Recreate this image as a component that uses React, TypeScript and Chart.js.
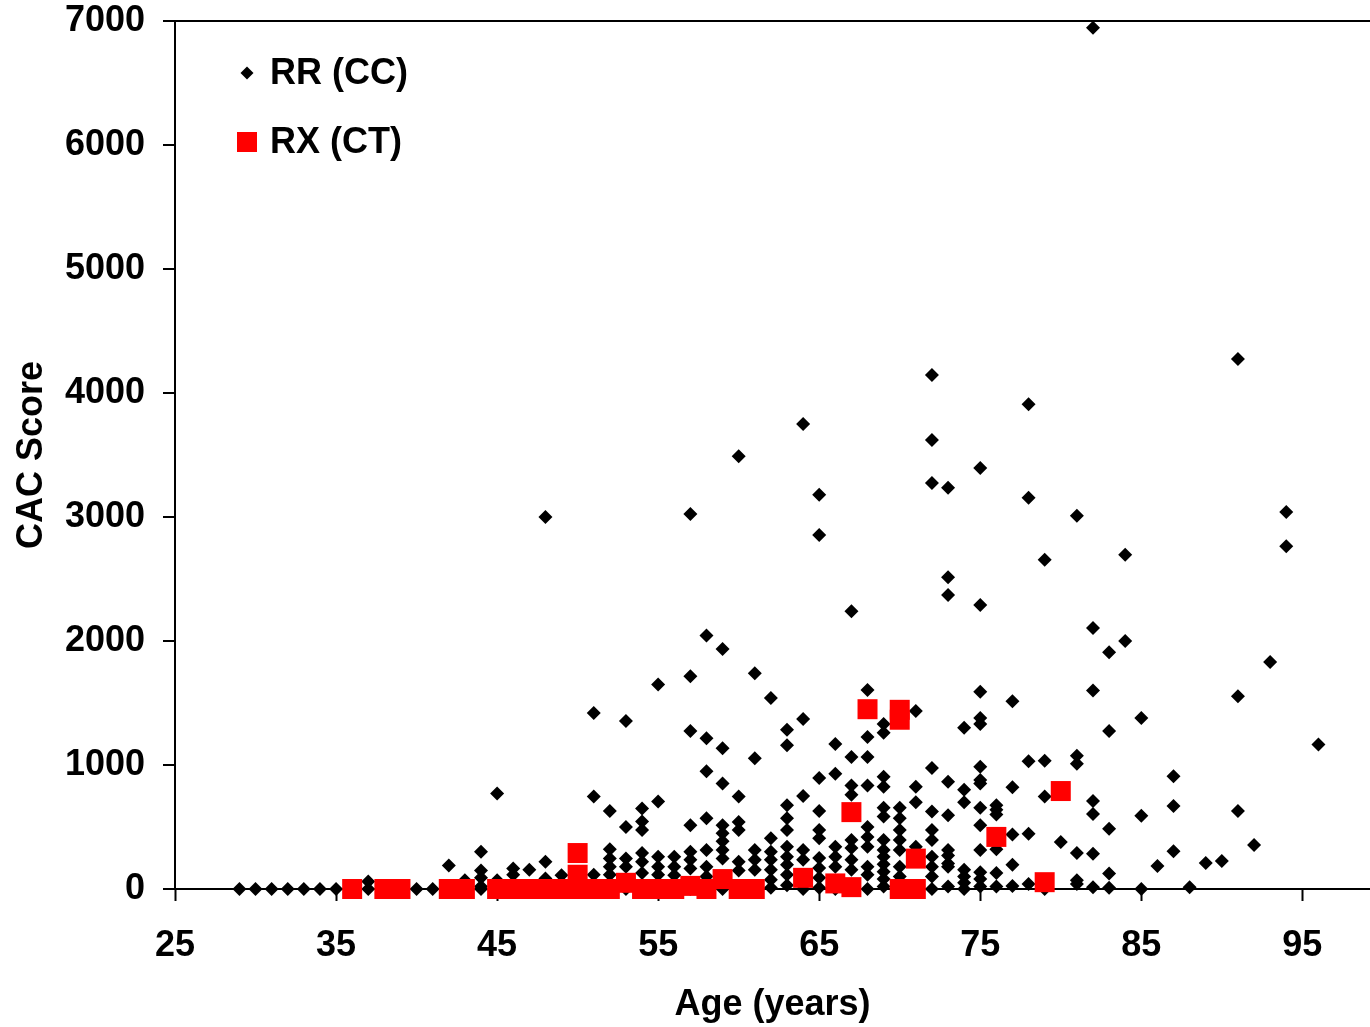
import React, { useEffect, useRef } from "react";
import { Chart, registerables } from "chart.js";

Chart.register(...registerables);

const FONT = '"Liberation Sans", Arial, Helvetica, sans-serif';

// Axis ticks
const xTickValues = [25, 35, 45, 55, 65, 75, 85, 95];
const yTickValues = [0, 1000, 2000, 3000, 4000, 5000, 6000, 7000];

// Series labels
const legendLabels = ["RR (CC)", "RX (CT)"];
const axisTitles = { x: "Age (years)", y: "CAC Score" };

// RR (CC): ages and the CAC scores observed at each age
const rrAges = [
  29, 30, 31, 32, 33, 34, 35, 36, 37, 38, 39, 40, 41, 42, 43, 44, 45, 46, 47, 48,
  49, 50, 51, 52, 53, 54, 55, 56, 57, 58, 59, 60, 61, 62, 63, 64, 65, 66, 67, 68,
  69, 70, 71, 72, 73, 74, 75, 76, 77, 78, 79, 80, 81, 82, 83, 84, 85, 86, 87, 88,
  89, 90, 91, 92, 93, 94, 96,
];
const rrScores = [
  [0], [0], [0], [0], [0], [0], [0], [0], [60, 0], [0], [0], [0], [0], [190, 0], [70, 0],
  [300, 150, 90, 20, 0],
  [770, 70, 0],
  [165, 115, 0],
  [155, 0],
  [3000, 220, 85, 0],
  [110, 0],
  [40, 0],
  [1420, 745, 115, 0],
  [630, 320, 245, 180, 115, 0],
  [1355, 500, 245, 180, 60, 0],
  [650, 545, 475, 290, 220, 130, 0],
  [1650, 705, 260, 180, 115, 0],
  [260, 180, 110, 0],
  [3025, 1715, 1275, 515, 300, 235, 165, 0],
  [2045, 1215, 950, 570, 315, 180, 100, 20],
  [1935, 1135, 850, 515, 450, 385, 315, 245, 0],
  [3490, 745, 540, 475, 220, 150, 0],
  [1740, 1055, 315, 235, 155, 0],
  [1540, 410, 300, 235, 155, 75, 10],
  [1285, 1160, 675, 570, 475, 340, 260, 195, 115, 30],
  [3750, 1370, 750, 315, 235, 0],
  [3180, 2855, 895, 630, 475, 410, 250, 170, 90, 10],
  [1170, 930, 340, 260, 180, 0],
  [2240, 1065, 835, 760, 395, 330, 235, 155, 0],
  [1605, 1225, 1065, 835, 500, 420, 340, 180, 115, 0],
  [1330, 1260, 905, 825, 655, 585, 395, 315, 260, 200, 140, 80, 20],
  [655, 570, 475, 395, 315, 180, 100, 0],
  [1435, 825, 700, 340, 0],
  [4145, 3620, 3275, 975, 625, 475, 395, 260, 180, 100, 0],
  [3235, 2515, 2370, 865, 595, 315, 270, 205, 180, 20],
  [1300, 800, 700, 155, 100, 50, 0],
  [3395, 2290, 1590, 1380, 1330, 985, 880, 850, 655, 515, 315, 135, 80, 20],
  [675, 640, 600, 320, 130, 20],
  [1515, 820, 440, 195, 25],
  [3910, 3155, 1030, 445, 40],
  [2655, 1035, 745, 0],
  [380],
  [3010, 1075, 1010, 290, 70, 40],
  [6945, 2105, 1600, 710, 605, 285, 15],
  [1910, 1275, 485, 125, 10],
  [2695, 2000],
  [1380, 590, 0],
  [185],
  [910, 670, 305],
  [15],
  [210],
  [225],
  [4275, 1555, 630],
  [355],
  [1830],
  [3040, 2765],
  [1165],
];

// RX (CT)
const rxAges = [
  36, 38, 39, 42, 43, 45, 46, 47, 48, 49, 50, 50, 50, 51, 52, 53, 54, 55, 56, 57,
  58, 59, 60, 61, 64, 66, 67, 67, 68, 70, 70, 70, 71, 71, 76, 79, 80,
];
const rxScores = [
  0, 0, 0, 0, 0, 0, 0, 0, 0, 0, 0, 115, 290, 0, 0, 50, 0, 0, 0, 25,
  0, 80, 0, 0, 90, 45, 15, 620, 1450, 1445, 1365, 0, 0, 245, 420, 55, 790,
];

export default function App() {
  const ref = useRef<HTMLCanvasElement>(null);

  useEffect(() => {
    if (!ref.current) return;
    const rrPoints = rrAges.flatMap((a, i) => rrScores[i].map((v) => ({ x: a, y: v })));
    const rxPoints = rxAges.map((a, i) => ({ x: a, y: rxScores[i] }));
    const tickFont = { family: FONT, size: 36, weight: "bold" as const };

    const insideLegend = {
      id: "insideLegend",
      afterDraw(chart: any) {
        const { ctx, chartArea } = chart;
        const cx = chartArea.left + 72;
        const y1 = chartArea.top + 52;
        const y2 = chartArea.top + 121;
        ctx.save();
        ctx.fillStyle = "#000";
        const r = 6.5;
        ctx.beginPath();
        ctx.moveTo(cx, y1 - r);
        ctx.lineTo(cx + r, y1);
        ctx.lineTo(cx, y1 + r);
        ctx.lineTo(cx - r, y1);
        ctx.closePath();
        ctx.fill();
        ctx.fillStyle = "#ff0000";
        ctx.fillRect(cx - 10, y2 - 10, 20, 20);
        ctx.fillStyle = "#000";
        ctx.font = `bold 36px ${FONT}`;
        ctx.textAlign = "left";
        ctx.textBaseline = "middle";
        ctx.fillText(legendLabels[0], cx + 23, y1 + 1);
        ctx.fillText(legendLabels[1], cx + 23, y2 + 1);
        ctx.restore();
      },
    };

    const chart = new Chart(ref.current, {
      type: "scatter",
      data: {
        datasets: [
          {
            label: legendLabels[0],
            data: rrPoints,
            pointStyle: "rectRot",
            radius: 7,
            backgroundColor: "#000",
            borderColor: "#000",
            borderWidth: 0,
            order: 1,
            clip: false,
          },
          {
            label: legendLabels[1],
            data: rxPoints,
            pointStyle: "rect",
            radius: 14.14,
            backgroundColor: "#ff0000",
            borderColor: "#ff0000",
            borderWidth: 0,
            order: 0,
            clip: false,
          },
        ],
      },
      options: {
        animation: false,
        responsive: false,
        layout: { padding: 0, autoPadding: false },
        plugins: {
          legend: { display: false },
          tooltip: { enabled: false },
        },
        scales: {
          x: {
            type: "linear",
            min: 25,
            max: 99.2,
            afterBuildTicks: (s: any) => {
              s.ticks = xTickValues.map((v) => ({ value: v }));
            },
            afterFit: (s: any) => {
              s.height = 138;
              s.paddingLeft = 0;
              s.paddingRight = 0;
            },
            ticks: {
              font: tickFont,
              color: "#000",
              padding: 23,
              maxRotation: 0,
              autoSkip: false,
            },
            grid: {
              display: true,
              drawOnChartArea: false,
              drawTicks: true,
              tickLength: 12,
              tickColor: "#000",
              tickWidth: 2,
            },
            border: { display: true, color: "#000", width: 2 },
            title: {
              display: true,
              text: axisTitles.x,
              font: tickFont,
              color: "#000",
              padding: { top: 0, bottom: 0 },
            },
          },
          y: {
            type: "linear",
            min: 0,
            max: 7000,
            afterBuildTicks: (s: any) => {
              s.ticks = yTickValues.map((v) => ({ value: v }));
            },
            afterFit: (s: any) => {
              s.width = 175;
              s.paddingTop = 21;
              s.paddingBottom = 0;
            },
            ticks: {
              font: tickFont,
              color: "#000",
              padding: 18,
              autoSkip: false,
              callback: (v: any) => String(v),
            },
            grid: {
              display: true,
              drawOnChartArea: true,
              drawTicks: true,
              tickLength: 12,
              tickColor: "#000",
              tickWidth: 2,
              lineWidth: 2,
              color: (c: any) =>
                c.tick && c.tick.value === 7000 ? "#000" : "rgba(0,0,0,0)",
            },
            border: { display: true, color: "#000", width: 2 },
            title: {
              display: true,
              text: axisTitles.y,
              font: tickFont,
              color: "#000",
              padding: { top: 10, bottom: 0 },
            },
          },
        },
      },
      plugins: [insideLegend],
    });
    return () => chart.destroy();
  }, []);

  return (
    <div style={{ position: "absolute", left: 0, top: 0, width: 1370, height: 1027, background: "#fff" }}>
      <canvas ref={ref} width={1370} height={1027} />
    </div>
  );
}
